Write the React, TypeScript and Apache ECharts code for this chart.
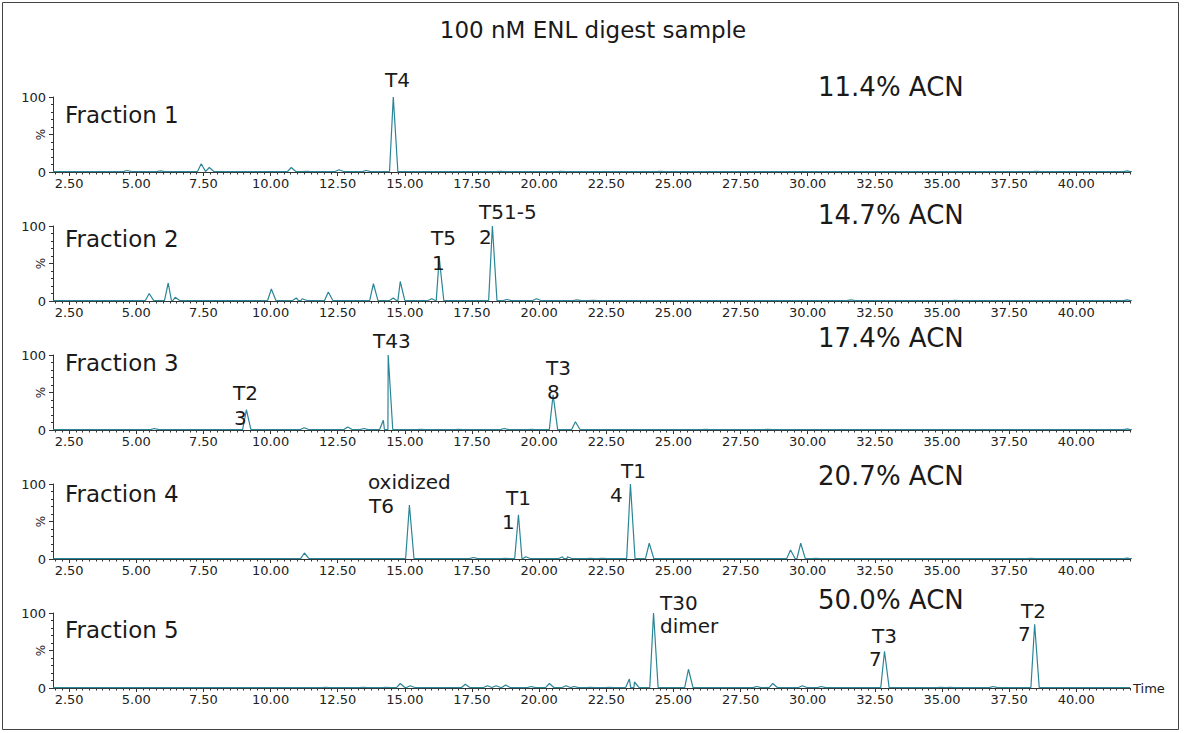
import React, { useEffect, useRef } from "react";
import * as echarts from "echarts";

// ---- data ----
const TITLE = "100 nM ENL digest sample";
const X_MIN = 1.9;
const X_MAX = 42.0;
const X_TICKS = [2.5, 5, 7.5, 10, 12.5, 15, 17.5, 20, 22.5, 25, 27.5, 30, 32.5, 35, 37.5, 40];
const FRACTIONS = ["Fraction 1", "Fraction 2", "Fraction 3", "Fraction 4", "Fraction 5"];
const ACN = ["11.4% ACN", "14.7% ACN", "17.4% ACN", "20.7% ACN", "50.0% ACN"];

// [retention time (min), relative intensity (%)]
const F1_PEAKS = [
  [4.66, 2], [5.9, 1.5], [7.42, 11], [7.72, 6], [10.77, 6], [11.33, 1], [12.55, 3],
  [13.56, 2], [14.57, 100], [18.56, 1], [20.8, 0.8], [24.5, 0.8], [30.2, 0.6], [38.5, 0.8], [41.9, 1.5],
];
const F2_PEAKS = [
  [5.48, 10], [6.19, 24], [6.45, 5], [10.03, 16], [10.96, 4], [11.18, 3], [12.15, 12],
  [13.83, 23], [14.57, 4], [14.83, 26], [16.0, 3], [16.28, 58], [18.26, 100], [18.8, 2],
  [19.9, 3], [21.4, 1.5], [22.0, 1], [31.6, 1.5], [35.5, 0.8], [41.9, 1.5],
];
const F3_PEAKS = [
  [5.67, 2], [9.1, 27], [11.25, 3], [12.87, 4], [13.47, 2], [14.2, 13], [14.38, 100],
  [15.6, 1], [17.0, 1], [18.7, 2], [19.7, 1], [20.52, 47], [21.35, 11], [26.2, 1],
  [28.5, 1], [33.5, 0.6], [41.9, 1.5],
];
const F4_PEAKS = [
  [11.26, 8], [15.17, 72], [17.55, 2], [18.74, 1], [19.23, 59], [19.5, 3], [20.87, 3],
  [21.05, 3], [21.9, 1], [22.35, 1], [23.4, 100], [24.1, 21], [29.36, 12], [29.74, 21],
  [30.3, 1], [33.2, 0.6], [38.3, 0.8], [41.9, 1.2],
];
const F5_PEAKS = [
  [12.04, 1], [13.45, 1], [14.3, 1], [14.83, 6], [15.2, 3], [17.25, 5], [18.07, 3],
  [18.4, 3], [18.75, 4], [19.7, 2], [20.38, 6], [21.0, 3], [21.3, 2], [21.9, 1], [22.6, 1],
  [23.36, 12], [23.55, 8], [24.26, 100], [25.56, 25], [28.1, 2], [28.7, 6], [29.8, 3],
  [30.5, 2], [32.86, 49], [34.95, 1], [35.3, 1], [36.9, 2], [38.45, 85],
];
const PEAKS = [F1_PEAKS, F2_PEAKS, F3_PEAKS, F4_PEAKS, F5_PEAKS];

// ---- layout ----
const FONT = "DejaVu Sans";
const TEAL = "#2a8597";
const AXIS = "#333";
const GRID_LEFT = 53;
const GRID_WIDTH = 1077;
const GRID_TOPS = [97, 226, 355, 484, 613];
const GRID_H = 75;
const FRACTION_Y = [115, 239, 363, 494, 630];
const ACN_Y = [87, 215, 338, 476, 600];
const PEAK_LABELS = [
  { t: "T4", x: 385, y: 80 },
  { t: "T51-5", x: 479, y: 212 },
  { t: "2", x: 479, y: 237 },
  { t: "T5", x: 431, y: 238 },
  { t: "1", x: 432, y: 263 },
  { t: "T43", x: 373, y: 341 },
  { t: "T2", x: 233, y: 393 },
  { t: "3", x: 234, y: 418 },
  { t: "T3", x: 546, y: 368 },
  { t: "8", x: 547, y: 392 },
  { t: "oxidized", x: 368, y: 482 },
  { t: "T6", x: 369, y: 506 },
  { t: "T1", x: 506, y: 498 },
  { t: "1", x: 502, y: 522 },
  { t: "T1", x: 621, y: 471 },
  { t: "4", x: 610, y: 495 },
  { t: "T30", x: 660, y: 603 },
  { t: "dimer", x: 660, y: 626 },
  { t: "T3", x: 872, y: 636 },
  { t: "7", x: 869, y: 659 },
  { t: "T2", x: 1021, y: 611 },
  { t: "7", x: 1018, y: 634 },
];

const BASE = 0.6;
function buildTrace(peaks: number[][]) {
  const pts: number[][] = [[X_MIN, BASE], [X_MAX, BASE]];
  for (const [t, h] of peaks) {
    pts.push([t - 0.14, BASE], [t, h], [t + 0.17, BASE]);
  }
  pts.sort((a, b) => a[0] - b[0]);
  return pts;
}

const MINOR_TICKS: number[] = [];
for (let k = 8; k <= 168; k++) MINOR_TICKS.push(k * 0.25);

export default function App() {
  const ref = useRef<HTMLDivElement>(null);
  useEffect(() => {
    document.body.style.margin = "0";
    const chart = echarts.init(ref.current!, undefined, { renderer: "svg" });
    const grids: any[] = [];
    const xAxes: any[] = [];
    const yAxes: any[] = [];
    const series: any[] = [];
    const graphics: any[] = [
      {
        type: "rect",
        shape: { x: 2.5, y: 2.5, width: 1176, height: 727 },
        style: { fill: "none", stroke: "#444", lineWidth: 1 },
        silent: true,
      },
    ];
    PEAKS.forEach((peaks, i) => {
      grids.push({ left: GRID_LEFT, width: GRID_WIDTH, top: GRID_TOPS[i], height: GRID_H });
      xAxes.push({
        gridIndex: i,
        type: "value",
        min: X_MIN,
        max: X_MAX,
        position: "bottom",
        name: i === 4 ? "Time" : "",
        nameLocation: "end",
        nameGap: 3,
        nameTextStyle: { fontFamily: FONT, fontSize: 13, color: "#222" },
        axisLine: { show: true, lineStyle: { color: AXIS, width: 1 } },
        axisTick: { show: true, customValues: X_TICKS, length: 4, lineStyle: { color: AXIS } },
        axisLabel: {
          customValues: X_TICKS,
          formatter: (v: number) => v.toFixed(2),
          fontFamily: FONT,
          fontSize: 13,
          color: "#222",
          margin: 5,
        },
        splitLine: { show: false },
      });
      xAxes.push({
        gridIndex: i,
        type: "value",
        min: X_MIN,
        max: X_MAX,
        position: "bottom",
        axisLine: { show: false },
        axisTick: { show: true, customValues: MINOR_TICKS, length: 2.5, lineStyle: { color: AXIS } },
        axisLabel: { show: false },
        splitLine: { show: false },
      });
      yAxes.push({
        gridIndex: i,
        type: "value",
        min: 0,
        max: 100,
        interval: 50,
        axisLine: { show: true, lineStyle: { color: AXIS, width: 1 } },
        axisTick: { show: true, length: 4, lineStyle: { color: AXIS } },
        minorTick: { show: true, splitNumber: 5, length: 2, lineStyle: { color: AXIS } },
        axisLabel: {
          formatter: (v: number) => (v === 50 ? "" : String(v)),
          fontFamily: FONT,
          fontSize: 13,
          color: "#222",
          margin: 7,
        },
        splitLine: { show: false },
        minorSplitLine: { show: false },
      });
      series.push({
        type: "line",
        xAxisIndex: 2 * i,
        yAxisIndex: i,
        data: buildTrace(peaks),
        showSymbol: false,
        symbol: "none",
        lineStyle: { color: TEAL, width: 1.2 },
        z: 5,
      });
      graphics.push({
        type: "text",
        x: 41,
        y: GRID_TOPS[i] + GRID_H / 2,
        rotation: Math.PI / 2,
        style: { text: "%", fontFamily: FONT, fontSize: 12, fill: "#222", align: "center", verticalAlign: "middle" },
      });
    });

    FRACTIONS.forEach((f, i) => {
      graphics.push({
        type: "text",
        x: 65,
        y: FRACTION_Y[i],
        style: { text: f, fontFamily: FONT, fontSize: 23, fill: "#1a1a1a", verticalAlign: "middle", align: "left" },
      });
      graphics.push({
        type: "text",
        x: 818,
        y: ACN_Y[i],
        style: { text: ACN[i], fontFamily: FONT, fontSize: 26, fill: "#1a1a1a", verticalAlign: "middle", align: "left" },
      });
    });
    PEAK_LABELS.forEach((p) => {
      graphics.push({
        type: "text",
        x: p.x,
        y: p.y,
        z: 10,
        style: { text: p.t, fontFamily: FONT, fontSize: 20, fill: "#1a1a1a", verticalAlign: "middle", align: "left" },
      });
    });

    chart.setOption({
      animation: false,
      backgroundColor: "#fff",
      title: {
        text: TITLE,
        left: "center",
        top: 13,
        textStyle: { fontFamily: FONT, fontSize: 23, fontWeight: "normal", color: "#1a1a1a" },
      },
      grid: grids,
      xAxis: xAxes,
      yAxis: yAxes,
      series,
      graphic: graphics,
    });
    return () => chart.dispose();
  }, []);
  return <div ref={ref} style={{ width: 1186, height: 733 }} />;
}
